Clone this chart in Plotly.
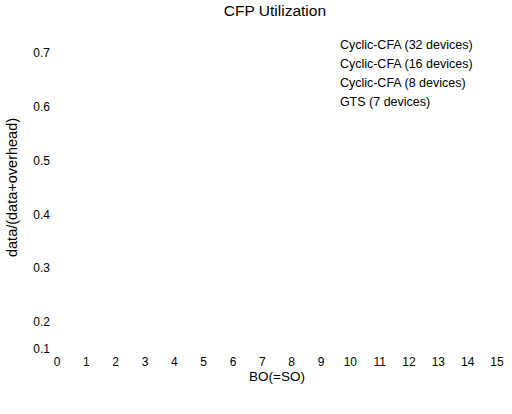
import plotly.graph_objects as go

# Categories / ticks
bo_ticks = list(range(0, 16))
y_tick_vals = [0.15, 0.2, 0.3, 0.4, 0.5, 0.6, 0.7]
y_tick_text = ["0.1", "0.2", "0.3", "0.4", "0.5", "0.6", "0.7"]

# Series (no marks are visible in the reference chart; values are missing)
series_names = ["Cyclic-CFA (32 devices)", "Cyclic-CFA (16 devices)",
                "Cyclic-CFA (8 devices)", "GTS (7 devices)"]
series_x = [[None], [None], [None], [None]]
series_y = [[None], [None], [None], [None]]

fig = go.Figure()
for name, xs, ys in zip(series_names, series_x, series_y):
    fig.add_trace(go.Scatter(x=xs, y=ys, name=name, mode="lines",
                             line=dict(width=0, color="white")))

font_family = "Liberation Sans, Arial, Helvetica, sans-serif"

fig.update_layout(
    width=512, height=414,
    margin=dict(l=57, r=15, t=26, b=65),
    paper_bgcolor="white", plot_bgcolor="white",
    font=dict(family=font_family, size=12, color="black"),
    title=dict(text="CFP Utilization", x=0.537, xanchor="center",
               y=0.975, yanchor="middle", font=dict(size=15.5)),
    showlegend=True,
    legend=dict(x=0.552, y=0.99, xanchor="left", yanchor="top",
                bgcolor="rgba(0,0,0,0)", borderwidth=0,
                font=dict(size=12.5), itemwidth=30, tracegroupgap=0),
    xaxis=dict(range=[0, 15], tickvals=bo_ticks, showgrid=False,
               zeroline=False, showline=False, ticks="", automargin=False,
               ticklabelstandoff=4, tickfont=dict(size=12),
               title=dict(text="BO(=SO)", standoff=2, font=dict(size=13.5))),
    yaxis=dict(range=[0.15, 0.75], tickvals=y_tick_vals, ticktext=y_tick_text,
               showgrid=False, zeroline=False, showline=False, ticks="",
               automargin=False, ticklabelstandoff=6, tickfont=dict(size=12),
               title=dict(text="data/(data+overhead)", standoff=12,
                          font=dict(size=14.5))),
)

fig.write_html("out.html", config={"displayModeBar": False},
               post_script="document.body.style.margin='0';")
